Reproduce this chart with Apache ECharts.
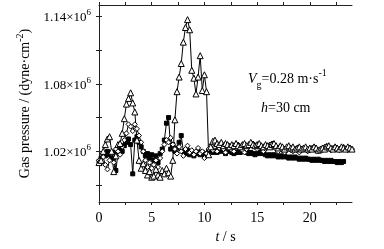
<!DOCTYPE html>
<html>
<head>
<meta charset="utf-8">
<script src="https://cdn.jsdelivr.net/npm/echarts@6/dist/echarts.min.js"></script>
<style>html,body{margin:0;padding:0;background:#fff}#c{width:384px;height:249px}</style>
</head>
<body>
<div id="c"></div>
<script>
const times = [0,0.2,0.4,0.6,0.8,1,1.2,1.4,1.6,1.8,2,2.2,2.4,2.6,2.8,3,3.2,3.4,3.6,3.8,4,4.2,4.4,4.6,4.8,5,5.2,5.4,5.6,5.8,6,6.2,6.4,6.6,6.8,7,7.2,7.4,7.6,7.8,8,8.2,8.4,8.6,8.8,9,9.2,9.4,9.6,9.8,10,10.2,10.4,10.6,10.8,11,11.2,11.4,11.6,11.8,12,12.2,12.4,12.6,12.8,13,13.2,13.4,13.6,13.8,14,14.2,14.4,14.6,14.8,15,15.2,15.4,15.6,15.8,16,16.2,16.4,16.6,16.8,17,17.2,17.4,17.6,17.8,18,18.2,18.4,18.6,18.8,19,19.2,19.4,19.6,19.8,20,20.2,20.4,20.6,20.8,21,21.2,21.4,21.6,21.8,22,22.2,22.4,22.6,22.8,23,23.2,23.4,23.6,23.8,24];
const triangleSeries = [1.010,1.012,1.020,1.026,1.031,1.033,1.020,1.002,1.016,1.026,1.027,1.036,1.049,1.062,1.067,1.072,1.063,1.055,1.030,1.012,1.005,1.009,1.003,0.999,1.002,0.997,0.998,1.004,0.999,0.997,1.003,1.000,1.005,1.001,0.998,1.012,1.048,1.073,1.086,1.098,1.117,1.130,1.137,1.128,1.092,1.085,1.071,1.086,1.105,1.074,1.088,1.073,1.017,1.024,1.029,1.030,1.027,1.026,1.028,1.025,1.027,1.026,1.024,1.026,1.025,1.027,1.025,1.024,1.026,1.027,1.025,1.026,1.028,1.026,1.025,1.026,1.027,1.025,1.024,1.026,1.025,1.024,1.026,1.027,1.025,1.023,1.025,1.024,1.022,1.024,1.025,1.023,1.024,1.022,1.023,1.024,1.022,1.023,1.024,1.022,1.023,1.022,1.024,1.023,1.021,1.022,1.023,1.022,1.024,1.025,1.023,1.022,1.024,1.023,1.022,1.024,1.023,1.022,1.024,1.023,1.022];
const diamondSeries = [1.012,1.010,1.015,1.008,1.004,1.012,1.018,1.010,1.022,1.020,1.017,1.024,1.030,1.036,1.044,1.042,1.038,1.044,1.040,1.034,1.028,1.020,1.012,1.006,1.010,1.005,1.008,1.012,1.006,1.014,1.020,1.026,1.030,1.028,1.032,1.026,1.022,1.018,1.024,1.020,1.016,1.022,1.025,1.019,1.021,1.017,1.020,1.023,1.018,1.020,1.014,1.018,1.022,1.025,1.021,1.024,1.020,1.023,1.026,1.022,1.019,1.023,1.025,1.021,1.020,1.023,1.026,1.024,1.021,1.019,1.022,1.024,1.026,1.027,1.024,1.022,1.025,1.023,1.020,1.022,1.024,1.026,1.027,1.024,1.022,1.020,1.023,1.021,1.019,1.021,1.023,1.021,1.020,1.022,1.021,1.019,1.021,1.023,1.022,1.020,1.021,1.023,1.024,1.022,1.020,1.021,1.022,1.024,1.025,1.023,1.021,1.023,1.024,1.022,1.021,1.023,1.024,1.022,1.021,1.023,1.022];
const squareSeries = [1.011,1.014,1.018,1.016,1.020,1.017,1.014,1.019,1.003,1.018,1.022,1.020,1.025,1.028,1.031,1.026,1.000,1.030,1.033,1.028,1.024,1.020,1.016,1.018,1.014,1.017,1.012,1.016,1.010,1.018,1.022,1.030,1.045,1.050,1.022,1.026,1.020,1.023,1.028,1.034,1.020,1.018,1.021,1.017,1.019,1.016,1.018,1.020,1.017,1.019,1.016,1.018,1.020,1.022,1.019,1.021,1.019,1.020,1.022,1.020,1.018,1.020,1.021,1.019,1.018,1.019,1.020,1.019,1.020,1.021,1.019,1.018,1.019,1.018,1.017,1.018,1.019,1.018,1.019,1.017,1.016,1.017,1.016,1.017,1.016,1.015,1.016,1.015,1.016,1.015,1.014,1.015,1.014,1.015,1.014,1.013,1.014,1.013,1.014,1.013,1.013,1.012,1.013,1.012,1.013,1.012,1.012,1.011,1.012,1.011,1.012,1.011,1.011,1.010,1.011,1.010,1.011];
const yTicks = [0.99,1.02,1.05,1.08,1.11,1.14];
const yLabels = [1.02,1.08,1.14];
const xTicks = [0,2.5,5,7.5,10,12.5,15,17.5,20,22.5];
const xLabels = [0,5,10,15,20];

const pair = arr => times.map((t,i)=>[t,arr[i]]);
const FONT = '"Liberation Serif","DejaVu Serif",serif';
const axisLine = {lineStyle:{color:'#222',width:1}};
const chart = echarts.init(document.getElementById('c'));
const mkSeries = (data, symbol, size, fill) => ({
  type:'line', data: pair(data), symbol, symbolSize: size, showSymbol:true,
  lineStyle:{color:'#000',width:1}, itemStyle:{color:fill,borderColor:'#000',borderWidth:1},
  animation:false, z: 2
});
chart.setOption({
  animation:false,
  grid:{left:99,right:32,top:5,bottom:37},
  xAxis:[{type:'value',min:0,max:24,position:'bottom',
    axisLine, axisTick:{customValues:xTicks,length:3,inside:false,lineStyle:{color:'#222'}},
    splitLine:{show:false},
    axisLabel:{customValues:xLabels,fontFamily:FONT,fontSize:14,color:'#000',margin:9},
    name:'{i|t} / s',nameLocation:'middle',nameGap:28,
    nameTextStyle:{fontFamily:FONT,fontSize:14,color:'#000',rich:{i:{fontStyle:'italic',fontFamily:FONT,fontSize:14}}}},
   {type:'value',min:0,max:24,position:'top',axisLine,
    axisTick:{customValues:xTicks,length:3,lineStyle:{color:'#222'}},axisLabel:{show:false},splitLine:{show:false}}],
  yAxis:[{type:'value',min:0.975,max:1.15,position:'left',axisLine,
    axisTick:{customValues:yTicks,length:3,lineStyle:{color:'#222'}},splitLine:{show:false},
    axisLabel:{customValues:yLabels,margin:8,
      formatter:v=>'{a|'+v.toFixed(2)+'×10}{s|6}',
      rich:{a:{fontFamily:FONT,fontSize:13,color:'#000',lineHeight:16,verticalAlign:'bottom'},
            s:{fontFamily:FONT,fontSize:9,color:'#000',verticalAlign:'top',lineHeight:16}}},
    name:'Gas pressure / (dyne·cm{s|-2})',nameLocation:'middle',nameGap:58,
    nameTextStyle:{fontFamily:FONT,fontSize:14,color:'#000',
      rich:{s:{fontFamily:FONT,fontSize:10,verticalAlign:'top',lineHeight:20}}}},
   {type:'value',min:0.975,max:1.15,position:'right',axisLine,
    axisTick:{customValues:yTicks,length:3,lineStyle:{color:'#222'}},axisLabel:{show:false},splitLine:{show:false}}],
  series:[
    mkSeries(squareSeries,'rect',4,'#000'),
    mkSeries(diamondSeries,'diamond',5,'#fff'),
    mkSeries(triangleSeries,'triangle',6,'#fff')
  ],
  graphic:[
    {type:'text',left:248,top:68,style:{text:'{i|V}{sub|g}{n|=0.28 m·s}{sup|-1}',
      rich:{i:{fontFamily:FONT,fontSize:14,fontStyle:'italic',lineHeight:22,verticalAlign:'middle'},
            sub:{fontFamily:FONT,fontSize:10,lineHeight:22,verticalAlign:'bottom'},
            n:{fontFamily:FONT,fontSize:14,lineHeight:22,verticalAlign:'middle'},
            sup:{fontFamily:FONT,fontSize:10,lineHeight:22,verticalAlign:'top'}},fill:'#000'}},
    {type:'text',left:261,top:101,style:{text:'{i|h}{n|=30 cm}',
      rich:{i:{fontFamily:FONT,fontSize:14,fontStyle:'italic'},n:{fontFamily:FONT,fontSize:14}},fill:'#000'}}
  ]
});
</script>
</body>
</html>
